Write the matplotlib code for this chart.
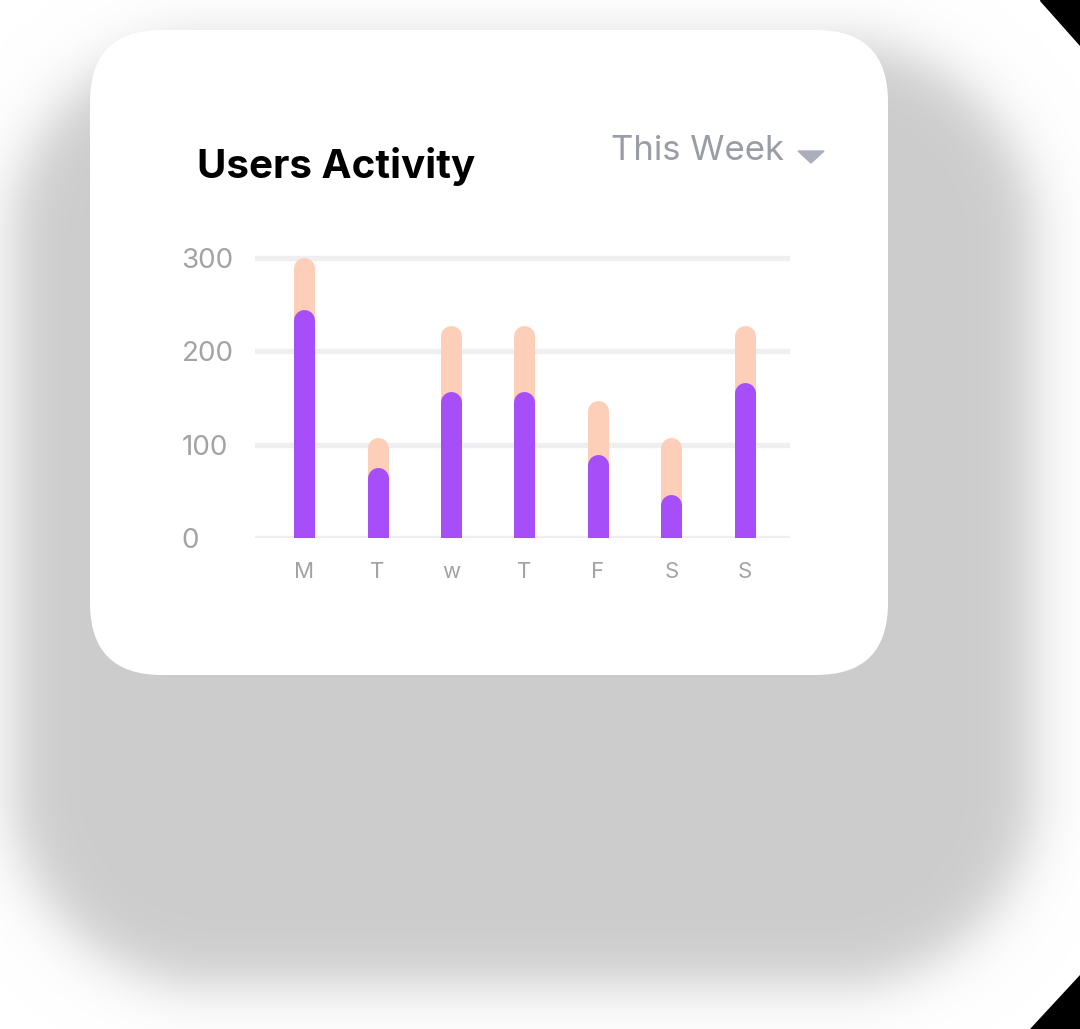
import numpy as np
import matplotlib
matplotlib.use("Agg")
import matplotlib.pyplot as plt
from matplotlib.patches import FancyBboxPatch, Polygon

# data
days = ["M", "T", "w", "T", "F", "S", "S"]
total_users = [300, 108, 228, 228, 147, 108, 228]
active_users = [245, 76, 157, 157, 89, 47, 167]
y_ticks = [0, 100, 200, 300]

peach = "#FDCFB8"
purple = "#A64FF9"
grid_col = "#EFEFF2"
tick_col = "#A3A3A3"

plt.rcParams["font.family"] = ["Inter", "DejaVu Sans"]

W, H = 1080, 1029
fig = plt.figure(figsize=(W / 100, H / 100), dpi=100)
fig.patch.set_facecolor("white")

# background layer in pixel coords
bg = fig.add_axes([0, 0, 1, 1])
bg.set_xlim(0, W)
bg.set_ylim(H, 0)
bg.axis("off")

# soft grey shadow behind the card (rounded rect distance field)
yy, xx = np.mgrid[0:H, 0:W]
x0, x1, y0, y1, r = 12, 1034, 42, 985, 200
cx = np.clip(xx, x0 + r, x1 - r)
cy = np.clip(yy, y0 + r, y1 - r)
d = np.hypot(xx - cx, yy - cy) - r
alpha = 1 / (1 + np.exp(d / 16))
shade = np.ones((H, W, 4))
shade[..., :3] = 0.80
shade[..., 3] = alpha
bg.imshow(shade, extent=(0, W, H, 0), zorder=1, interpolation="bilinear")

# corner marks
bg.add_patch(Polygon([[1040, 0], [1080, 0], [1080, 45]], closed=True, color="black", zorder=2))
bg.add_patch(Polygon([[1080, 975], [1080, 1029], [1030, 1029]], closed=True, color="black", zorder=2))

# white card
card = FancyBboxPatch((90, 30), 798, 645, boxstyle="round,pad=0,rounding_size=72",
                      facecolor="white", edgecolor="none", zorder=3)
bg.add_patch(card)

bg.text(197, 167, "Users Activity", fontsize=29, fontweight="bold", color="black",
        va="center", ha="left", zorder=4)
bg.text(611, 151, "This Week", fontsize=25, fontweight="normal", color="#9A9CA6",
        va="center", ha="left", zorder=4)
bg.add_patch(Polygon([[798, 151], [824, 151], [811, 163]], closed=True,
                     color="#ABAEBC", zorder=4))

# chart axes: gridlines span px 255..790, y=0 at px 538, y=300 at px 258
ax_l, ax_r = 255, 790
ax_b = 538
px_per_unit = (538 - 258) / 300
y_top = 320
ax_t = ax_b - y_top * px_per_unit
ax = fig.add_axes([ax_l / W, 1 - ax_b / H, (ax_r - ax_l) / W, (ax_b - ax_t) / H])
ax.set_facecolor("none")
step = 73.5
x = np.arange(len(days))
ax.set_xlim(-(304 - ax_l) / step, len(days) - 1 + (ax_r - 745) / step)
ax.set_ylim(0, y_top)

for t in y_ticks:
    ax.axhline(t, color=grid_col, lw=3.8, solid_capstyle="round", zorder=1)

bar_px = 21
cap = (bar_px / 2) / px_per_unit  # cap radius in data units
lw_pt = bar_px * 0.72


def rounded_bars(vals, color, z):
    # round-capped thick lines; the bottom cap is clipped away at y=0
    for xi, v in zip(x, vals):
        ax.plot([xi, xi], [0, v - cap], color=color, lw=lw_pt,
                solid_capstyle="round", zorder=z)


rounded_bars(total_users, peach, 2)
rounded_bars(active_users, purple, 3)

for s in ax.spines.values():
    s.set_visible(False)
ax.set_xticks(x)
ax.set_xticklabels(days, fontsize=16, color=tick_col)
ax.set_yticks(y_ticks)
ax.set_yticklabels([str(t) for t in y_ticks], fontsize=20, color=tick_col, ha="left")
ax.tick_params(axis="x", length=0, pad=17)
ax.tick_params(axis="y", length=0, pad=53)

fig.savefig("out.png", dpi=100, facecolor="white")
